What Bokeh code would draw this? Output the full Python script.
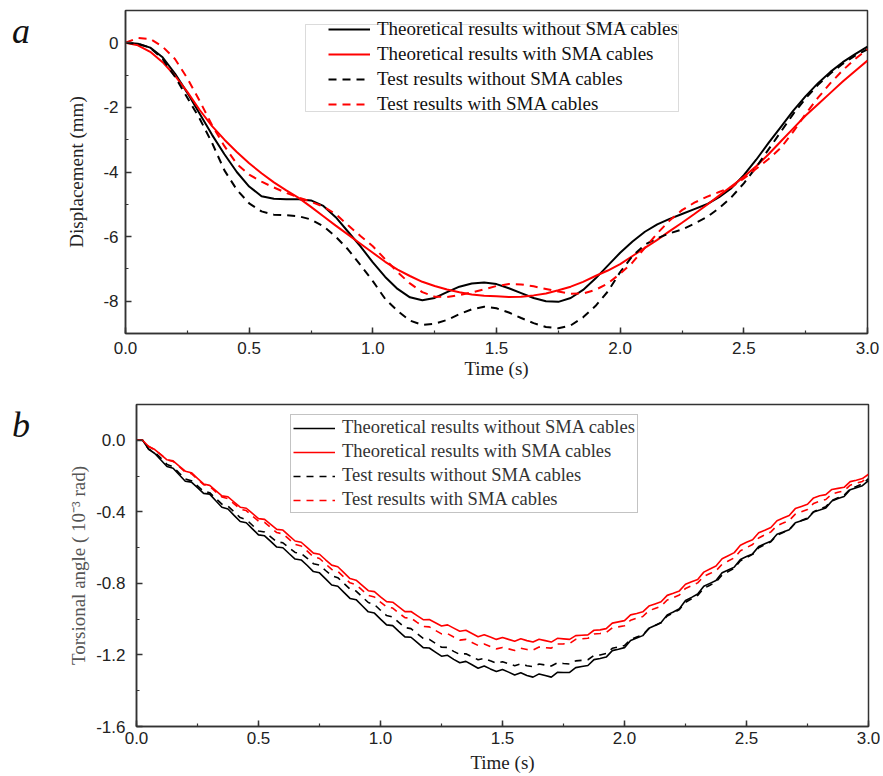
from bokeh.plotting import figure
from bokeh.models import (ColumnDataSource, Legend, LegendItem, Range1d, Div,
                          SingleIntervalTicker, BoxAnnotation, PrintfTickFormatter)
from bokeh.layouts import column, row
from bokeh.embed import file_html
from bokeh.resources import INLINE

# ---------------- data ----------------
series_names = ["Theoretical results without SMA cables",
                "Theoretical results with SMA cables",
                "Test results without SMA cables",
                "Test results with SMA cables"]

time_a = [round(0.05 * i, 2) for i in range(61)]   # s

disp_theory_without = [0, -0.03, -0.15, -0.45, -0.95, -1.55, -2.2, -2.85, -3.45, -4.0, -4.45,
    -4.75, -4.83, -4.84, -4.84, -4.88, -5.05, -5.4, -5.85, -6.3, -6.8,
    -7.25, -7.62, -7.88, -7.97, -7.9, -7.72, -7.55, -7.45, -7.42, -7.47,
    -7.6, -7.75, -7.9, -8.0, -8.02, -7.9, -7.65, -7.3, -6.9, -6.5,
    -6.15, -5.85, -5.62, -5.45, -5.3, -5.15, -5.0, -4.78, -4.5, -4.1,
    -3.62, -3.1, -2.6, -2.1, -1.65, -1.25, -0.9, -0.6, -0.35, -0.12]

disp_theory_with = [0, -0.08, -0.28, -0.6, -1.02, -1.52, -2.08, -2.58, -3.0, -3.38, -3.73,
    -4.04, -4.32, -4.57, -4.8, -5.08, -5.37, -5.66, -5.94, -6.22, -6.5,
    -6.78, -7.02, -7.22, -7.4, -7.53, -7.64, -7.72, -7.79, -7.83, -7.85,
    -7.87, -7.86, -7.82, -7.76, -7.66, -7.55, -7.4, -7.22, -7.05, -6.85,
    -6.6, -6.35, -6.1, -5.83, -5.57, -5.3, -5.02, -4.73, -4.44, -4.15,
    -3.82, -3.45, -3.05, -2.65, -2.25, -1.9, -1.55, -1.2, -0.87, -0.55]

disp_test_without = [0, -0.03, -0.15, -0.5, -1.05, -1.7, -2.35, -3.1, -3.95, -4.55, -4.97,
    -5.22, -5.32, -5.34, -5.37, -5.47, -5.68, -6.0, -6.4, -6.88, -7.38,
    -7.93, -8.3, -8.6, -8.73, -8.7, -8.58, -8.4, -8.25, -8.17, -8.22,
    -8.35, -8.52, -8.68, -8.8, -8.84, -8.75, -8.5, -8.15, -7.7, -7.1,
    -6.6, -6.25, -6.05, -5.9, -5.78, -5.6, -5.4, -5.12, -4.78, -4.35,
    -3.85, -3.3, -2.75, -2.2, -1.72, -1.3, -0.95, -0.65, -0.4, -0.2]

disp_test_with = [0, 0.15, 0.12, -0.12, -0.5, -1.1, -1.8, -2.55, -3.2, -3.75, -4.08,
    -4.3, -4.48, -4.65, -4.79, -4.92, -5.07, -5.3, -5.65, -5.98, -6.3,
    -6.7, -7.1, -7.45, -7.72, -7.86, -7.87, -7.81, -7.73, -7.63, -7.53,
    -7.47, -7.48, -7.54, -7.62, -7.7, -7.77, -7.76, -7.65, -7.45, -7.15,
    -6.8, -6.35, -5.9, -5.5, -5.18, -4.95, -4.77, -4.62, -4.47, -4.2,
    -3.9, -3.6, -3.25, -2.75, -2.2, -1.7, -1.25, -0.85, -0.5, -0.2]

time_b = [round(0.025 * i, 3) for i in range(121)]   # s

torsion_theory_without = [0, 0, -0.05, -0.074, -0.110, -0.147, -0.156, -0.193, -0.229, -0.234,
    -0.265, -0.297, -0.301, -0.338, -0.374, -0.384, -0.420, -0.454, -0.461, -0.495,
    -0.529, -0.534, -0.565, -0.597, -0.601, -0.633, -0.664, -0.669, -0.700, -0.734,
    -0.741, -0.775, -0.809, -0.816, -0.850, -0.884, -0.891, -0.925, -0.959, -0.966,
    -1.000, -1.032, -1.036, -1.068, -1.099, -1.101, -1.130, -1.159, -1.161, -1.184,
    -1.207, -1.202, -1.225, -1.244, -1.236, -1.255, -1.274, -1.262, -1.278, -1.293,
    -1.281, -1.296, -1.312, -1.300, -1.315, -1.324, -1.306, -1.315, -1.324, -1.297,
    -1.298, -1.298, -1.271, -1.265, -1.259, -1.226, -1.220, -1.212, -1.176, -1.168,
    -1.159, -1.119, -1.105, -1.092, -1.051, -1.035, -1.019, -0.976, -0.960, -0.942,
    -0.896, -0.878, -0.859, -0.816, -0.800, -0.784, -0.741, -0.725, -0.709, -0.666,
    -0.650, -0.635, -0.594, -0.579, -0.564, -0.525, -0.513, -0.500, -0.461, -0.450,
    -0.439, -0.401, -0.390, -0.378, -0.339, -0.326, -0.314, -0.276, -0.265, -0.254,
    -0.225]

torsion_theory_with = [0, 0, -0.035, -0.052, -0.080, -0.109, -0.115, -0.144, -0.173, -0.181,
    -0.213, -0.244, -0.252, -0.281, -0.311, -0.316, -0.345, -0.374, -0.380, -0.409,
    -0.438, -0.442, -0.470, -0.498, -0.502, -0.533, -0.563, -0.570, -0.600, -0.631,
    -0.637, -0.668, -0.698, -0.707, -0.740, -0.773, -0.782, -0.811, -0.841, -0.846,
    -0.875, -0.902, -0.905, -0.931, -0.958, -0.957, -0.980, -1.003, -1.002, -1.020,
    -1.038, -1.032, -1.050, -1.068, -1.062, -1.080, -1.098, -1.087, -1.100, -1.113,
    -1.102, -1.113, -1.123, -1.110, -1.120, -1.128, -1.112, -1.120, -1.128, -1.107,
    -1.110, -1.113, -1.092, -1.090, -1.088, -1.062, -1.060, -1.053, -1.022, -1.015,
    -1.008, -0.976, -0.968, -0.959, -0.927, -0.915, -0.903, -0.867, -0.855, -0.842,
    -0.805, -0.791, -0.778, -0.737, -0.720, -0.703, -0.662, -0.645, -0.628, -0.587,
    -0.570, -0.556, -0.517, -0.503, -0.488, -0.450, -0.435, -0.421, -0.382, -0.370,
    -0.358, -0.322, -0.310, -0.304, -0.275, -0.269, -0.263, -0.231, -0.223, -0.214,
    -0.19]

torsion_test_without = [0, 0, -0.05, -0.068, -0.100, -0.135, -0.148, -0.183, -0.217, -0.226,
    -0.255, -0.285, -0.293, -0.325, -0.357, -0.368, -0.400, -0.432, -0.443, -0.475,
    -0.507, -0.513, -0.540, -0.567, -0.573, -0.600, -0.627, -0.633, -0.660, -0.690,
    -0.698, -0.728, -0.757, -0.768, -0.800, -0.832, -0.843, -0.875, -0.907, -0.918,
    -0.950, -0.980, -0.988, -1.018, -1.047, -1.053, -1.080, -1.107, -1.113, -1.135,
    -1.157, -1.158, -1.180, -1.197, -1.193, -1.210, -1.227, -1.219, -1.233, -1.246,
    -1.238, -1.249, -1.260, -1.249, -1.260, -1.266, -1.251, -1.256, -1.262, -1.244,
    -1.248, -1.251, -1.233, -1.230, -1.227, -1.203, -1.200, -1.192, -1.163, -1.155,
    -1.147, -1.113, -1.100, -1.087, -1.053, -1.036, -1.020, -0.982, -0.965, -0.946,
    -0.906, -0.886, -0.867, -0.828, -0.810, -0.792, -0.753, -0.734, -0.715, -0.674,
    -0.655, -0.638, -0.601, -0.584, -0.567, -0.531, -0.515, -0.500, -0.463, -0.449,
    -0.435, -0.399, -0.385, -0.371, -0.336, -0.321, -0.307, -0.272, -0.258, -0.243,
    -0.215]

torsion_test_with = [0, 0, -0.035, -0.053, -0.080, -0.110, -0.118, -0.148, -0.177, -0.187,
    -0.218, -0.248, -0.258, -0.288, -0.317, -0.326, -0.355, -0.385, -0.393, -0.423,
    -0.452, -0.459, -0.488, -0.516, -0.523, -0.553, -0.582, -0.591, -0.620, -0.651,
    -0.661, -0.691, -0.722, -0.733, -0.765, -0.797, -0.808, -0.838, -0.867, -0.876,
    -0.905, -0.932, -0.938, -0.965, -0.992, -0.994, -1.018, -1.041, -1.043, -1.063,
    -1.082, -1.081, -1.100, -1.117, -1.113, -1.130, -1.147, -1.139, -1.153, -1.166,
    -1.158, -1.166, -1.175, -1.162, -1.170, -1.173, -1.156, -1.159, -1.162, -1.139,
    -1.138, -1.136, -1.113, -1.110, -1.107, -1.083, -1.080, -1.075, -1.048, -1.043,
    -1.037, -1.006, -0.995, -0.985, -0.953, -0.940, -0.927, -0.893, -0.880, -0.865,
    -0.828, -0.813, -0.797, -0.761, -0.745, -0.730, -0.693, -0.675, -0.657, -0.618,
    -0.600, -0.583, -0.546, -0.529, -0.512, -0.477, -0.463, -0.448, -0.413, -0.400,
    -0.387, -0.353, -0.340, -0.331, -0.301, -0.291, -0.282, -0.251, -0.240, -0.230,
    -0.205]

# ---------------- styling helpers ----------------
SERIF = "Liberation Serif"
SANS = "Liberation Sans"
AXIS_COL = "#333333"


def style_axes(p, xlabel, ylabel, x_int, y_int, yfmt, ylabel_color,
               ytick_standoff, ylab_standoff, xtick_standoff, xlab_standoff):
    p.xaxis.ticker = SingleIntervalTicker(interval=x_int, num_minor_ticks=2)
    p.yaxis.ticker = SingleIntervalTicker(interval=y_int, num_minor_ticks=2)
    p.xaxis.formatter = PrintfTickFormatter(format="%.1f")
    p.yaxis.formatter = PrintfTickFormatter(format=yfmt)
    p.xaxis.axis_label = xlabel
    p.yaxis.axis_label = ylabel
    for ax in (p.xaxis[0], p.yaxis[0]):
        ax.major_tick_in = 6
        ax.major_tick_out = 0
        ax.minor_tick_in = 3
        ax.minor_tick_out = 0
        ax.axis_line_color = AXIS_COL
        ax.axis_line_width = 1.5
        ax.major_tick_line_color = AXIS_COL
        ax.major_tick_line_width = 1.5
        ax.minor_tick_line_color = AXIS_COL
        ax.minor_tick_line_width = 1.2
        ax.major_label_text_font = SANS
        ax.major_label_text_font_size = "17px"
        ax.major_label_text_color = "#222222"
        ax.axis_label_text_font = SERIF
        ax.axis_label_text_font_size = "19px"
        ax.axis_label_text_font_style = "normal"
    p.xaxis.axis_label_text_color = "#222222"
    p.yaxis.axis_label_text_color = ylabel_color
    p.xaxis.major_label_standoff = xtick_standoff
    p.xaxis.axis_label_standoff = xlab_standoff
    p.yaxis.major_label_standoff = ytick_standoff
    p.yaxis.axis_label_standoff = ylab_standoff
    p.xgrid.visible = False
    p.ygrid.visible = False
    p.outline_line_color = AXIS_COL
    p.outline_line_width = 1.5
    p.background_fill_color = "white"
    p.border_fill_color = "white"


def add_series(p, src, x, ys, width, dash):
    styles = [("black", "solid"), ("red", "solid"), ("black", dash), ("red", dash)]
    rs = []
    for y, (c, d) in zip(ys, styles):
        rs.append(p.line(x, y, source=src, line_color=c, line_width=width, line_dash=d))
    return rs


def make_legend(rs, loc, text_color, border, size):
    items = [LegendItem(label=n, renderers=[r]) for n, r in zip(series_names, rs)]
    lg = Legend(items=items, location=loc)
    lg.label_text_font = SERIF
    lg.label_text_font_size = size
    lg.label_text_color = text_color
    lg.glyph_width = 42
    lg.glyph_height = 20
    lg.label_height = 20
    lg.spacing = 3
    lg.padding = 2
    lg.margin = 0
    lg.label_standoff = 7
    lg.border_line_color = "#888888" if border else None
    lg.border_line_width = 1
    lg.background_fill_alpha = 1 if border else 0
    return lg


def panel_letter(letter, width, height, top, left):
    html = ('<div style="margin:%dpx 0 0 %dpx;font-family:\'Liberation Serif\';'
            'font-style:italic;font-size:36px;line-height:36px;color:#111111;">%s</div>'
            % (top, left, letter))
    return Div(text=html, width=width, height=height, margin=(0, 0, 0, 0))


# ---------------- panel a ----------------
src_a = ColumnDataSource(dict(t=time_a, a0=disp_theory_without, a1=disp_theory_with,
                              a2=disp_test_without, a3=disp_test_with))
pa = figure(width=840, height=386, x_range=Range1d(0, 3), y_range=Range1d(-9, 1),
            output_backend="svg", toolbar_location=None,
            min_border_left=85, min_border_right=13, min_border_top=10, min_border_bottom=53)
style_axes(pa, "Time (s)", "Displacement (mm)", 0.5, 2, "%d", "#222222", 7, 13, 8, 1)
ra = add_series(pa, src_a, "t", ["a0", "a1", "a2", "a3"], 2, "8 6")
leg_a = make_legend(ra, (203, 218), "#111111", False, "19px")
pa.add_layout(leg_a)
pa.add_layout(BoxAnnotation(left=180, right=553, bottom=222, top=309,
                            left_units="screen", right_units="screen",
                            bottom_units="screen", top_units="screen",
                            fill_alpha=0, line_color="#888888", line_width=1))

# ---------------- panel b ----------------
src_b = ColumnDataSource(dict(t=time_b, b0=torsion_theory_without, b1=torsion_theory_with,
                              b2=torsion_test_without, b3=torsion_test_with))
pb = figure(width=829, height=389, x_range=Range1d(0, 3), y_range=Range1d(-1.6, 0.2),
            output_backend="svg", toolbar_location=None,
            min_border_left=85, min_border_right=12, min_border_top=18, min_border_bottom=48)
style_axes(pb, "Time (s)", "Torsional angle ( 10\u207b\u00b3 rad)", 0.5, 0.4, "%.1f",
           "#555555", 11, 4, 5, 5)
rb = add_series(pb, src_b, "t", ["b0", "b1", "b2", "b3"], 1.6, "7 6")
leg_b = make_legend(rb, (154, 213), "#333333", True, "18.5px")
pb.add_layout(leg_b)

row_a = row(panel_letter("a", 40, 386, 13, 12), pa)
row_b = row(panel_letter("b", 51, 389, 21, 12), pb)
layout = column(row_a, row_b)
open("out.html", "w").write(file_html(layout, INLINE))
